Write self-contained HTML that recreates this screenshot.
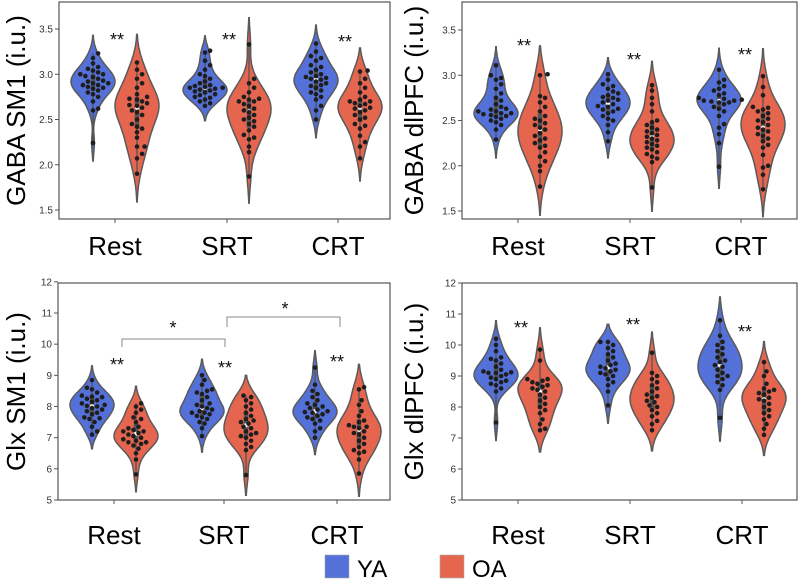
<!DOCTYPE html>
<html><head><meta charset="utf-8">
<style>
html,body{margin:0;padding:0;background:#fff;}
svg{display:block;font-family:"Liberation Sans",sans-serif;}
</style></head>
<body>
<svg id="fig" width="800" height="580" viewBox="0 0 800 580"></svg>
<script>
const categories = ["Rest","SRT","CRT"];
const groups = ["YA","OA"];
// GABA SM1
const gabaSM1_YA_Rest=[2.24,2.6,2.62,2.7,2.75,2.78,2.8,2.82,2.84,2.85,2.86,2.88,2.88,2.9,2.9,2.92,2.93,2.95,2.97,2.98,3.0,3.0,3.02,3.04,3.06,3.08,3.12,3.18,3.23];
const gabaSM1_OA_Rest=[1.9,2.07,2.12,2.2,2.2,2.3,2.36,2.4,2.42,2.45,2.5,2.55,2.58,2.6,2.63,2.65,2.66,2.68,2.7,2.72,2.73,2.75,2.78,2.85,2.9,2.95,3.0,3.05,3.13];
const gabaSM1_YA_SRT=[2.65,2.68,2.7,2.72,2.74,2.75,2.77,2.78,2.8,2.81,2.82,2.83,2.84,2.85,2.85,2.86,2.87,2.88,2.9,2.92,2.95,2.98,3.0,3.05,3.1,3.15,3.24,3.26];
const gabaSM1_OA_SRT=[1.87,2.14,2.2,2.28,2.3,2.33,2.38,2.42,2.45,2.48,2.5,2.52,2.55,2.58,2.6,2.62,2.65,2.67,2.7,2.7,2.72,2.73,2.75,2.8,2.85,2.9,2.95,3.33];
const gabaSM1_YA_CRT=[2.5,2.6,2.65,2.72,2.75,2.78,2.8,2.82,2.85,2.87,2.88,2.9,2.92,2.94,2.95,2.96,2.97,2.98,3.0,3.02,3.05,3.08,3.1,3.15,3.18,3.2,3.25,3.34];
const gabaSM1_OA_CRT=[2.07,2.2,2.25,2.32,2.4,2.43,2.45,2.5,2.52,2.55,2.58,2.6,2.62,2.63,2.65,2.67,2.68,2.7,2.7,2.72,2.75,2.8,2.85,2.9,2.95,3.03,3.04];
// GABA dlPFC
const gabaDL_YA_Rest=[2.29,2.4,2.45,2.48,2.5,2.52,2.54,2.55,2.56,2.57,2.58,2.58,2.6,2.6,2.62,2.63,2.65,2.68,2.72,2.75,2.8,2.85,2.9,2.95,2.97,3.0,3.11];
const gabaDL_OA_Rest=[1.77,1.94,2.0,2.05,2.1,2.15,2.2,2.22,2.25,2.28,2.3,2.33,2.36,2.4,2.42,2.45,2.47,2.5,2.52,2.55,2.6,2.65,2.7,2.75,2.77,3.0,3.01];
const gabaDL_YA_SRT=[2.27,2.37,2.45,2.5,2.52,2.55,2.58,2.6,2.62,2.63,2.65,2.66,2.68,2.7,2.72,2.73,2.75,2.76,2.78,2.8,2.82,2.85,2.88,2.9,2.95,3.01];
const gabaDL_OA_SRT=[1.76,2.04,2.08,2.1,2.13,2.15,2.18,2.2,2.22,2.24,2.26,2.28,2.3,2.32,2.34,2.36,2.38,2.4,2.42,2.45,2.48,2.5,2.6,2.68,2.75,2.83,2.89];
const gabaDL_YA_CRT=[1.99,2.25,2.35,2.42,2.46,2.55,2.6,2.63,2.65,2.68,2.7,2.7,2.71,2.72,2.72,2.73,2.74,2.75,2.78,2.8,2.83,2.85,2.88,2.92,2.95,3.06];
const gabaDL_OA_CRT=[1.74,1.9,1.98,2.0,2.12,2.2,2.23,2.27,2.3,2.33,2.35,2.38,2.4,2.42,2.45,2.48,2.5,2.52,2.55,2.58,2.6,2.62,2.64,2.65,2.78,2.87,2.99];
// Glx SM1
const glxSM1_YA_Rest=[7.1,7.2,7.35,7.5,7.6,7.62,7.65,7.75,7.8,7.85,7.9,7.95,8.0,8.02,8.05,8.1,8.15,8.2,8.25,8.3,8.32,8.35,8.45,8.55,8.6,8.85];
const glxSM1_OA_Rest=[5.82,6.3,6.5,6.65,6.75,6.8,6.85,6.85,6.9,6.95,7.0,7.05,7.1,7.15,7.2,7.2,7.25,7.3,7.35,7.5,7.6,7.65,7.8,7.9,8.0,8.1];
const glxSM1_YA_SRT=[7.05,7.3,7.45,7.5,7.6,7.65,7.7,7.75,7.8,7.8,7.85,7.9,7.95,8.0,8.05,8.1,8.2,8.3,8.4,8.45,8.5,8.55,8.7,8.85,9.0];
const glxSM1_OA_SRT=[5.8,6.6,6.7,6.8,6.9,7.0,7.05,7.1,7.15,7.2,7.3,7.35,7.45,7.5,7.55,7.6,7.7,7.8,7.9,8.0,8.1,8.2,8.3,8.35];
const glxSM1_YA_CRT=[7.0,7.2,7.3,7.45,7.55,7.6,7.65,7.7,7.75,7.8,7.82,7.85,7.9,7.95,8.0,8.05,8.1,8.2,8.3,8.4,8.5,8.7,9.25];
const glxSM1_OA_CRT=[5.85,6.3,6.5,6.55,6.6,6.7,6.8,6.9,7.0,7.1,7.15,7.2,7.3,7.35,7.35,7.4,7.5,7.55,7.7,7.85,8.05,8.2,8.55,8.62];
// Glx dlPFC
const glxDL_YA_Rest=[7.5,8.5,8.6,8.7,8.75,8.8,8.85,8.9,8.95,9.0,9.05,9.1,9.1,9.12,9.15,9.2,9.3,9.4,9.5,9.55,9.6,9.8,10.0,10.2];
const glxDL_OA_Rest=[7.25,7.3,7.45,7.6,7.8,7.9,8.0,8.1,8.2,8.3,8.4,8.5,8.55,8.6,8.65,8.7,8.75,8.8,8.85,8.9,8.9,9.5,9.85];
const glxDL_YA_SRT=[8.05,8.5,8.7,8.8,8.9,9.0,9.05,9.1,9.15,9.2,9.25,9.3,9.35,9.4,9.5,9.6,9.7,9.8,9.9,10.0,10.1,10.1];
const glxDL_OA_SRT=[7.25,7.45,7.55,7.7,7.8,7.9,8.0,8.05,8.15,8.2,8.3,8.35,8.4,8.5,8.6,8.7,8.8,8.9,9.0,9.1,9.75];
const glxDL_YA_CRT=[7.65,8.55,8.7,8.8,8.9,9.0,9.0,9.1,9.2,9.3,9.35,9.45,9.5,9.6,9.7,9.8,9.9,10.0,10.1,10.3,10.8];
const glxDL_OA_CRT=[7.1,7.3,7.45,7.6,7.7,7.8,7.9,8.0,8.1,8.2,8.25,8.3,8.4,8.45,8.5,8.55,8.6,8.75,9.0,9.15,9.45];

const gabaTicks=[1.5,2.0,2.5,3.0,3.5];
const glxTicks=[5,6,7,8,9,10,11,12];

const NS="http://www.w3.org/2000/svg";
const svg=document.getElementById('fig');
function mk(tag,attrs,parent){const e=document.createElementNS(NS,tag);for(const k in attrs)e.setAttribute(k,attrs[k]);(parent||svg).appendChild(e);return e;}
const COL={YA:"#5471d9",OA:"#e6654f"};

const panels=[
 {name:"gaba-sm1",title:"GABA SM1 (i.u.)",x0:59,x1:390,y0:2,y1:219,vA:1.5,pA:210,vB:3.5,pB:29,ticks:gabaTicks,fmt:v=>v.toFixed(1),cats:[115,227,338],labY:255,titleX:16,tickX:53,
  data:{Rest:[gabaSM1_YA_Rest,gabaSM1_OA_Rest],SRT:[gabaSM1_YA_SRT,gabaSM1_OA_SRT],CRT:[gabaSM1_YA_CRT,gabaSM1_OA_CRT]},
  stars:[[117,38],[229,38],[345,40]]},
 {name:"gaba-dlpfc",title:"GABA dlPFC (i.u.)",x0:462,x1:797,y0:2,y1:219,vA:1.5,pA:211,vB:3.5,pB:30,ticks:gabaTicks,fmt:v=>v.toFixed(1),cats:[518,630,741],labY:255,titleX:414,tickX:456,
  data:{Rest:[gabaDL_YA_Rest,gabaDL_OA_Rest],SRT:[gabaDL_YA_SRT,gabaDL_OA_SRT],CRT:[gabaDL_YA_CRT,gabaDL_OA_CRT]},
  stars:[[524,44],[634,58],[745,53]]},
 {name:"glx-sm1",title:"Glx SM1 (i.u.)",x0:58,x1:390,y0:283,y1:500,vA:5,pA:500,vB:11,pB:313,ticks:glxTicks,fmt:v=>String(v),cats:[114,224,337],labY:544,titleX:16,tickX:52,
  data:{Rest:[glxSM1_YA_Rest,glxSM1_OA_Rest],SRT:[glxSM1_YA_SRT,glxSM1_OA_SRT],CRT:[glxSM1_YA_CRT,glxSM1_OA_CRT]},
  stars:[[117,363],[225,366],[337,360]]},
 {name:"glx-dlpfc",title:"Glx dlPFC (i.u.)",x0:462,x1:797,y0:283,y1:500,vA:5,pA:500,vB:11,pB:314,ticks:glxTicks,fmt:v=>String(v),cats:[518,630,742],labY:544,titleX:414,tickX:456,
  data:{Rest:[glxDL_YA_Rest,glxDL_OA_Rest],SRT:[glxDL_YA_SRT,glxDL_OA_SRT],CRT:[glxDL_YA_CRT,glxDL_OA_CRT]},
  stars:[[521,326],[633,323],[745,330]]}
];

function quant(s,q){const p=(s.length-1)*q,i=Math.floor(p),f=p-i;return s[i]+(s[Math.min(i+1,s.length-1)]-s[i])*f;}

panels.forEach(P=>{
  const g=mk('g',{});
  
  
  const y=v=>P.pA+(v-P.vA)*(P.pB-P.pA)/(P.vB-P.vA);
  const fr=mk('rect',{x:P.x0,y:P.y0,width:P.x1-P.x0,height:P.y1-P.y0,fill:"#fff",stroke:"#555","stroke-width":1.2},g);
  
  
  P.ticks.forEach(t=>{
    const py=y(t); if(py<P.y0-3||py>P.y1+1) return;
    mk('line',{x1:P.x0-4,x2:P.x0,y1:py,y2:py,stroke:"#555","stroke-width":1},g);
    const tl=mk('text',{x:P.tickX,y:py+3.5,"text-anchor":"end","font-size":10,fill:"#333"},g);
    tl.textContent=P.fmt(t);
    
    
  });
  const tt=mk('text',{x:0,y:0,"text-anchor":"middle","font-size":26,fill:"#000",transform:`translate(${P.titleX+9},${(P.y0+P.y1)/2}) rotate(-90)`},g);
  tt.textContent=P.title;
  
  
  categories.forEach((c,ci)=>{
    const cx=P.cats[ci];
    mk('line',{x1:cx,x2:cx,y1:P.y1,y2:P.y1+4,stroke:"#555","stroke-width":1},g);
    const cl=mk('text',{x:cx,y:P.labY,"text-anchor":"middle","font-size":26,fill:"#000"},g);
    cl.textContent=c;
    
    
    P.data[c].forEach((vals,gi)=>{
      const vx=cx+(gi===0?-22:22);
      const s=vals.slice().sort((a,b)=>a-b);
      const n=s.length, mean=s.reduce((a,b)=>a+b,0)/n;
      const sd=Math.sqrt(s.reduce((a,b)=>a+(b-mean)*(b-mean),0)/(n-1));
      const bw=sd*Math.pow(n,-0.2);
      const lo=s[0]-2*bw, hi=s[n-1]+2*bw, N=80;
      const dens=[];let mx=0;
      for(let i=0;i<=N;i++){const v=lo+(hi-lo)*i/N;let d=0;s.forEach(x=>{const z=(v-x)/bw;d+=Math.exp(-0.5*z*z);});dens.push([v,d]);if(d>mx)mx=d;}
      const hw=22;
      let dstr="";
      dens.forEach((p,i)=>{dstr+=(i?"L":"M")+(vx+p[1]/mx*hw).toFixed(1)+","+y(p[0]).toFixed(1);});
      for(let i=dens.length-1;i>=0;i--){dstr+="L"+(vx-dens[i][1]/mx*hw).toFixed(1)+","+y(dens[i][0]).toFixed(1);}
      dstr+="Z";
      const vp=mk('path',{d:dstr,fill:COL[groups[gi]],stroke:"#5a5a5a","stroke-width":1.5},g);
      
      
      const q1=quant(s,.25),q3=quant(s,.75),md=quant(s,.5);
      mk('line',{x1:vx,x2:vx,y1:y(s[0]),y2:y(s[n-1]),stroke:"#555","stroke-width":1.3},g);
      mk('line',{x1:vx,x2:vx,y1:y(q1),y2:y(q3),stroke:"#555","stroke-width":4.5},g);
      mk('circle',{cx:vx,cy:y(md),r:2,fill:"#fff"},g);
      const r=2.3, placed=[];
      s.forEach(v=>{
        const py=y(v);let off=0,k=0,px=vx;
        while(true){
          px=vx+off;
          if(!placed.some(p=>Math.hypot(p[0]-px,p[1]-py)<2.3*r)) break;
          k++; off=(k%2?1:-1)*Math.ceil(k/2)*r*1.1;
        }
        placed.push([px,py]);
        const dot=mk('circle',{cx:px.toFixed(1),cy:py.toFixed(1),r:r,fill:"#1e1e1e"},g);
        
        
      });
    });
  });
  P.stars.forEach(st=>{
    const sx=mk('text',{x:st[0],y:st[1]+8,"text-anchor":"middle","font-size":18,fill:"#111"},g);
    sx.textContent="**";
    
    
  });
});

const br1=mk('path',{d:"M122,347 L122,339 L225,339 L225,347",fill:"none",stroke:"#888","stroke-width":1});


const s1=mk('text',{x:173,y:334,"text-anchor":"middle","font-size":18,fill:"#111"});
s1.textContent="*";


const br2=mk('path',{d:"M227,327 L227,317 L340,317 L340,327",fill:"none",stroke:"#888","stroke-width":1});


const s2=mk('text',{x:285,y:315,"text-anchor":"middle","font-size":18,fill:"#111"});
s2.textContent="*";



const lg=mk('g',{});


[["YA",325],["OA",440]].forEach(([lab,x])=>{
  const sw=mk('rect',{x:x,y:555,width:24,height:23,fill:COL[lab],stroke:"#aaa","stroke-width":0.6},lg);
  
  
  const t=mk('text',{x:x+32,y:577,"font-size":24,fill:"#000"},lg);
  t.textContent=lab;
  
  
});
</script>
</body></html>
